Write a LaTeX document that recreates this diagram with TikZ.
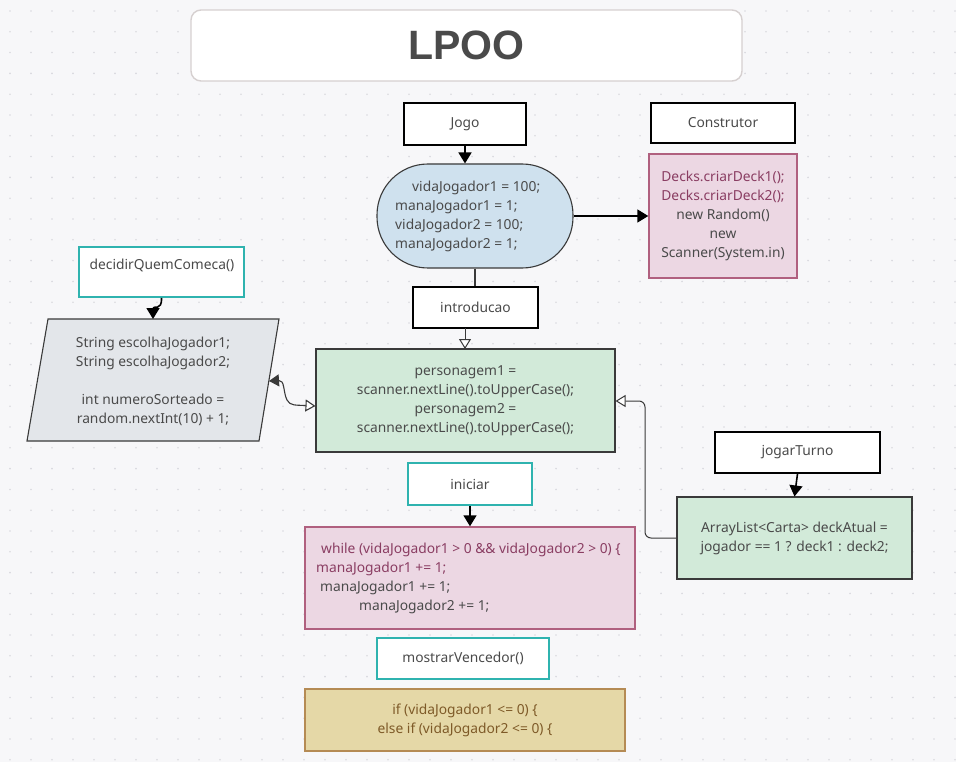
\documentclass[tikz,border=0pt]{standalone}
\usepackage{fontspec}
\setmainfont{Noto Sans}
\newfontfamily\titlefont{Liberation Sans}
\usetikzlibrary{arrows.meta}
\definecolor{bgc}{HTML}{F7F7F9}
\definecolor{dotc}{HTML}{D9D9DF}
\definecolor{txtc}{HTML}{4A4A4A}
\definecolor{purp}{HTML}{8A3D62}
\definecolor{pinkf}{HTML}{ECD7E3}
\definecolor{pinkd}{HTML}{B0607F}
\definecolor{bluef}{HTML}{CFE1EE}
\definecolor{greenf}{HTML}{D2EAD9}
\definecolor{grayf}{HTML}{E3E6EA}
\definecolor{teal}{HTML}{2FB3AF}
\definecolor{khakif}{HTML}{E5D8A7}
\definecolor{khakid}{HTML}{B58B54}
\definecolor{khakit}{HTML}{7E5A28}
\definecolor{edgec}{HTML}{3A3A3A}
\tikzset{
  x=1pt, y=-1pt,
  txt/.style={inner sep=0pt, text=txtc, font=\fontsize{13.8}{19}\selectfont},
  blackbox/.style={draw=black, line width=1.7pt, fill=white, txt},
  tealbox/.style={draw=teal, line width=1.6pt, fill=white, txt},
  pinkbox/.style={draw=pinkd, line width=1.4pt, fill=pinkf, txt},
  greenbox/.style={draw=edgec, line width=1.1pt, fill=greenf, txt},
  fillarrow/.style={draw=black, line width=1.6pt, -{Triangle[width=13pt,length=11pt]}},
  openarrow/.style={draw=edgec, line width=1pt, -{Triangle[open,width=12pt,length=10pt,fill=white]}},
}
\begin{document}
\begin{tikzpicture}
\useasboundingbox (0,0) rectangle (956,762);
\fill[bgc] (0,0) rectangle (956,762);
\foreach \i in {0,...,45} {
  \foreach \j in {0,...,36} {
    \fill[dotc] ({10+21*\i},{11+20.8*\j}) circle (0.9pt);
  }
}
% title
\node[draw={rgb,255:red,214;green,208;blue,208}, line width=1.4pt, fill=white, rounded corners=10pt,
  minimum width=551pt, minimum height=71pt, inner sep=0pt] (title) at (466.5,45.5)
  {\titlefont\bfseries\fontsize{41}{41}\selectfont\color{txtc}LPOO};
% Jogo
\node[blackbox, minimum width=122pt, minimum height=42pt] (jogo) at (465,124) {Jogo};
\node[blackbox, line width=1.4pt, minimum width=144pt, minimum height=40pt] (constr) at (723,123) {Construtor};
% stadium
\node[draw=edgec, line width=1.1pt, fill=bluef, rounded corners=51pt,
  minimum width=196pt, minimum height=104pt, inner sep=0pt] (estado) at (475,216) {};
\node[txt, align=left, anchor=west] (estadoTxt) at (395,216)
  {\hspace*{17pt}vidaJogador1 = 100;\\manaJogador1 = 1;\\vidaJogador2 = 100;\\manaJogador2 = 1;};
% Decks
\node[pinkbox, minimum width=148pt, minimum height=124pt, align=center] (decks) at (723,216)
  {\textcolor{purp}{Decks.criarDeck1();}\\\textcolor{purp}{Decks.criarDeck2();}\\new Random()\\new\\Scanner(System.in)};
% introducao
\node[blackbox, minimum width=125pt, minimum height=41pt] (intro) at (475.5,307.5) {introducao};
% green1
\node[greenbox, minimum width=299pt, minimum height=103pt, align=center] (pers) at (465.5,400.5)
  {personagem1 =\\scanner.nextLine().toUpperCase();\\personagem2 =\\scanner.nextLine().toUpperCase();};
% decidirQuemComeca
\node[tealbox, minimum width=165pt, minimum height=50pt] (decid) at (161.5,272) {};
\node[txt] (decidTxt) at (162,265) {decidirQuemComeca()};
% parallelogram
\coordinate (pTL) at (48,319);
\coordinate (pTR) at (279,319);
\coordinate (pBR) at (259,441);
\coordinate (pBL) at (27,441);
\coordinate (pTop) at (153,319);
\coordinate (pRight) at (269,381);
\draw[edgec, line width=1.1pt, fill=grayf] (pTL) -- (pTR) -- (pBR) -- (pBL) -- cycle;
\node[txt, align=center] (escolha) at (153,381)
  {String escolhaJogador1;\\String escolhaJogador2;\\[19pt]int numeroSorteado =\\random.nextInt(10) + 1;};
% jogarTurno
\node[blackbox, minimum width=165pt, minimum height=41pt] (turno) at (797.5,452.5) {jogarTurno};
\node[greenbox, minimum width=235pt, minimum height=82pt, align=center] (deck) at (794.5,538)
  {ArrayList<Carta> deckAtual =\\jogador == 1 ? deck1 : deck2;};
% iniciar
\node[tealbox, minimum width=124pt, minimum height=42pt] (iniciar) at (470,484) {iniciar};
\node[pinkbox, minimum width=330pt, minimum height=102pt] (loop) at (470,578) {};
\node[txt, align=left, anchor=west] (loopTxt) at (316,578)
  {\hspace*{5pt}\textcolor{purp}{while (vidaJogador1 > 0 \&\& vidaJogador2 > 0) \{}\\
   \textcolor{purp}{manaJogador1 += 1;}\\
   \hspace*{4pt}manaJogador1 += 1;\\
   \hspace*{43pt}manaJogador2 += 1;};
% mostrarVencedor
\node[tealbox, minimum width=172pt, minimum height=41pt] (mostrar) at (463,658.5) {mostrarVencedor()};
\node[draw=khakid, line width=1.4pt, fill=khakif, txt, text=khakit, align=center,
  minimum width=320pt, minimum height=62pt] (vence) at (465,720)
  {if (vidaJogador1 <= 0) \{\\else if (vidaJogador2 <= 0) \{};
% connectors
\draw[fillarrow] (jogo.south) -- (jogo.south |- estado.north);
\draw[fillarrow] (estado.east) -- (decks.west);
\draw[edgec, line width=1.1pt] (estado.south) -- (intro.north -| estado.south);
\draw[openarrow] (465,328) -- (465,349);
\draw[fillarrow] (decid.south) .. controls (162,312) and (153,305) .. (pTop);
\draw[line width=1.1pt, {Triangle[width=12pt,length=10pt]}-{Triangle[open,width=12pt,length=10pt,fill=white]}, draw=edgec]
  (pRight) .. controls (285,380) and (283,392) .. (287,400) .. controls (290,406) and (296,405) .. (pers.west |- 0,406);
\draw[fillarrow] (turno.south) -- (deck.north);
\draw[openarrow, rounded corners=6pt] (deck.west) -| (645,401) -- (pers.east |- 0,401);
\draw[fillarrow] (iniciar.south) -- (loop.north);
\end{tikzpicture}
\end{document}
